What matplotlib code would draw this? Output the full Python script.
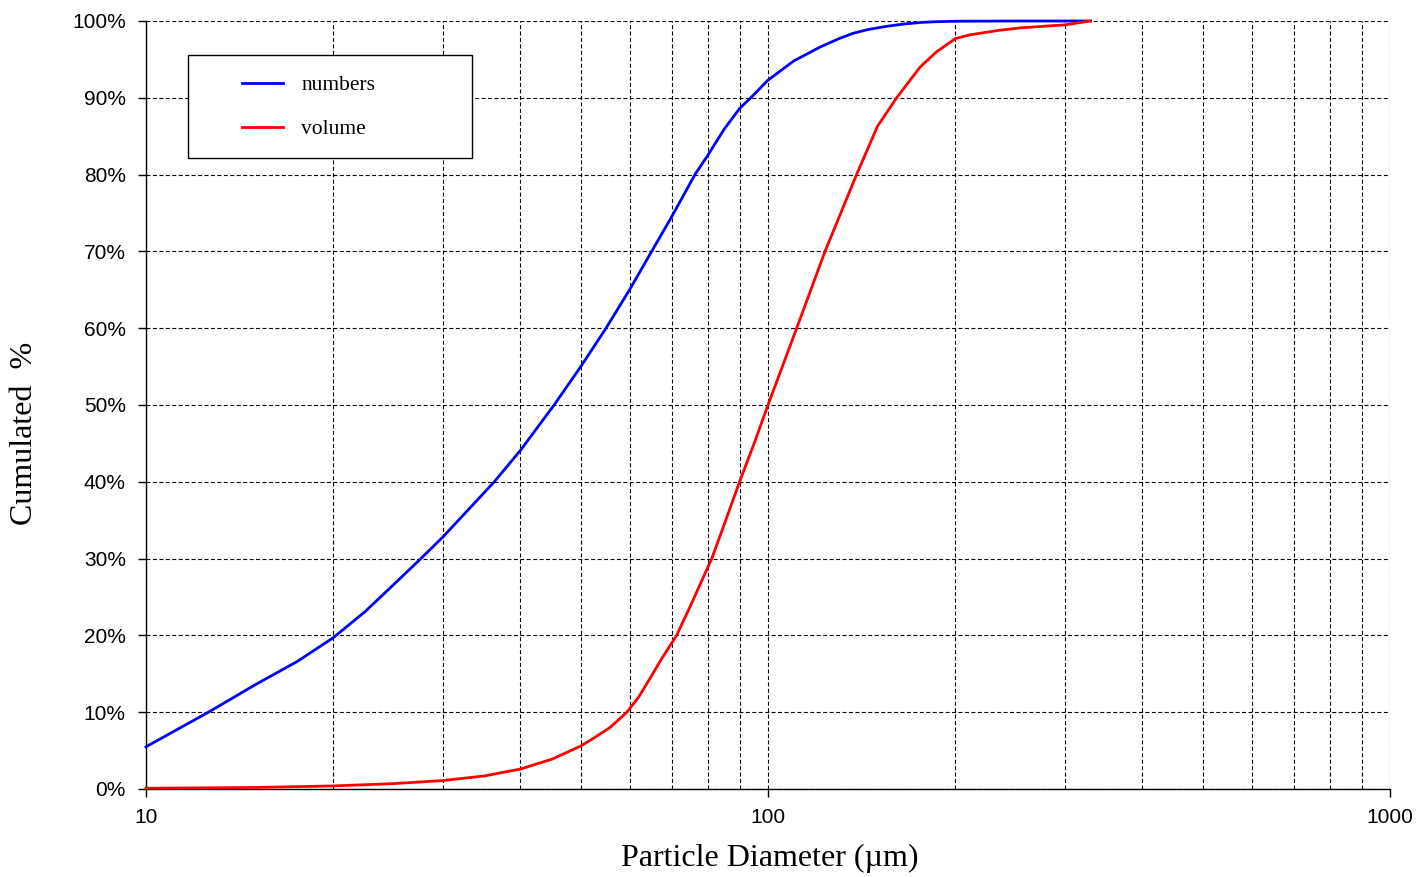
import matplotlib
matplotlib.use("Agg")
import matplotlib.pyplot as plt
from matplotlib.patches import Rectangle
from matplotlib.ticker import FixedLocator, FuncFormatter, NullLocator

# ---- data ----
numbers_d = [10, 12.6, 15, 17.5, 20, 22.5, 25, 27.5, 30, 36.3, 40, 45.3, 50, 54.9, 60, 65, 70,
             76.3, 80, 85, 90, 93.8, 100, 110, 121.2, 130, 137, 145, 155, 165, 175.6, 185,
             200, 250, 330]
numbers_pct = [5.5, 10, 13.6, 16.6, 19.7, 23.1, 26.6, 29.8, 32.8, 40, 44.1, 50, 55, 60, 65.1, 70,
               74.5, 80, 82.5, 85.9, 88.6, 90, 92.3, 94.8, 96.6, 97.7, 98.4, 98.9, 99.3, 99.6,
               99.8, 99.9, 99.97, 100, 100]

volume_d = [10, 15, 20, 25, 30, 35, 40, 45, 50, 52.4, 55.7, 59.3, 62, 64.6, 67.5, 71.3, 75,
            81.2, 85, 90, 95, 100, 111.2, 123.5, 138.8, 150, 161, 175.6, 186.7, 200, 211,
            236, 254, 300, 330]
volume_pct = [0.1, 0.2, 0.4, 0.7, 1.1, 1.7, 2.6, 3.9, 5.6, 6.6, 8.0, 10, 12.0, 14.4, 17.0, 20,
              23.8, 30, 34.4, 40, 45, 50, 60, 70, 80, 86.3, 90, 94.0, 96.0, 97.7, 98.2,
              98.8, 99.1, 99.5, 100]

y_ticks = [0, 10, 20, 30, 40, 50, 60, 70, 80, 90, 100]
x_major = [10, 100, 1000]
x_minor = [20, 30, 40, 50, 60, 70, 80, 90, 200, 300, 400, 500, 600, 700, 800, 900]

fig = plt.figure(figsize=(14.21, 8.77), dpi=100)
ax = fig.add_axes([146 / 1421, 1 - 789 / 877, 1244 / 1421, 768 / 877])

ax.set_xscale("log")
ax.set_xlim(10, 1000)
ax.set_ylim(0, 100)

grid_kw = dict(color="black", linewidth=0.8, linestyle=(0, (3.6, 2.2)))
ax.xaxis.set_major_locator(FixedLocator(x_major))
ax.xaxis.set_minor_locator(FixedLocator(x_minor))
ax.yaxis.set_major_locator(FixedLocator(y_ticks))
ax.yaxis.set_minor_locator(NullLocator())
ax.grid(True, which="major", axis="both", **grid_kw)
ax.grid(True, which="minor", axis="x", **grid_kw)
ax.set_axisbelow(True)

ax.xaxis.set_major_formatter(FuncFormatter(lambda v, p: f"{v:g}"))
ax.yaxis.set_major_formatter(FuncFormatter(lambda v, p: f"{v:.0f}%"))
ax.tick_params(axis="both", which="major", direction="out", length=5.5, width=1,
               labelsize=15, color="black")
ax.tick_params(axis="y", pad=9)
ax.tick_params(axis="x", pad=8)
ax.tick_params(axis="x", which="minor", length=0)
for lab in ax.get_xticklabels() + ax.get_yticklabels():
    lab.set_family("Liberation Sans")

for s in ["top", "right"]:
    ax.spines[s].set_visible(False)
for s in ["left", "bottom"]:
    ax.spines[s].set_color("black")
    ax.spines[s].set_linewidth(1.0)

l1, = ax.plot(numbers_d, numbers_pct, color="#0000ff", lw=2.0, label="numbers",
              clip_on=False, zorder=4, solid_joinstyle="round")
l2, = ax.plot(volume_d, volume_pct, color="#ff0000", lw=2.0, label="volume",
              clip_on=False, zorder=4, solid_joinstyle="round")

ax.set_xlabel("Particle Diameter (µm)", family="Liberation Serif", fontsize=23)
ax.xaxis.set_label_coords((770 - 146) / 1244, (789 - 858) / 768)
ax.xaxis.label.set_va("center")
ax.set_ylabel("Cumulated  %", family="Liberation Serif", fontsize=23)
ax.yaxis.set_label_coords((24 - 146) / 1244, (789 - 433) / 768)
ax.yaxis.label.set_va("center")

# legend box
rx0 = (188 - 146) / 1244
ry0 = (789 - 158) / 768
rw = (472 - 188) / 1244
rh = (158 - 55) / 768
ax.add_patch(Rectangle((rx0, ry0), rw, rh, transform=ax.transAxes, facecolor="white",
                       edgecolor="black", linewidth=1.0, zorder=5))
leg = ax.legend(handles=[l1, l2], loc="upper left",
                bbox_to_anchor=((242 - 146) / 1244, (789 - 75) / 768),
                frameon=False, borderaxespad=0, borderpad=0,
                handlelength=1.9, handletextpad=0.85, labelspacing=1.12,
                prop={"family": "Liberation Serif", "size": 15.5})
leg.set_zorder(6)

fig.savefig("out.png", dpi=100)
